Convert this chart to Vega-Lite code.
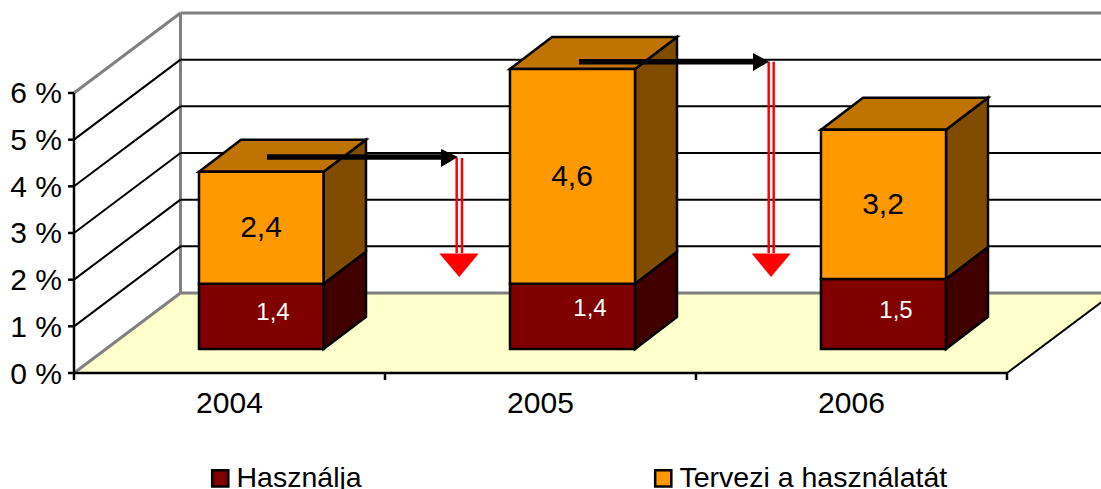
{"$schema":"https://vega.github.io/schema/vega-lite/v6.json","width":1101,"height":489,"padding":0,"autosize":{"type":"none"},"background":"white","config":{"view":{"stroke":null}},
"datasets":{
"floor":[{"x":0,"y":0,"y2":0},{"x":0.3424,"y":0,"y2":1.714},{"x":3,"y":0,"y2":1.714},{"x":3.3424,"y":1.714,"y2":1.714}],
"rules":[
{"kind":"gray","x":0,"x2":0.3424,"y":0,"y2":1.714},
{"kind":"gray","x":0,"x2":0.3424,"y":6,"y2":7.714},
{"kind":"gray","x":0.3424,"x2":0.3424,"y":1.714,"y2":7.714},
{"kind":"gray","x":0.3424,"x2":3.3424,"y":1.714,"y2":1.714},
{"kind":"gray","x":0.3424,"x2":3.3424,"y":7.714,"y2":7.714},
{"kind":"grid","x":0,"x2":0.3424,"y":1,"y2":2.714},
{"kind":"grid","x":0,"x2":0.3424,"y":2,"y2":3.714},
{"kind":"grid","x":0,"x2":0.3424,"y":3,"y2":4.714},
{"kind":"grid","x":0,"x2":0.3424,"y":4,"y2":5.714},
{"kind":"grid","x":0,"x2":0.3424,"y":5,"y2":6.714},
{"kind":"grid","x":0.3424,"x2":3.3424,"y":2.714,"y2":2.714},
{"kind":"grid","x":0.3424,"x2":3.3424,"y":3.714,"y2":3.714},
{"kind":"grid","x":0.3424,"x2":3.3424,"y":4.714,"y2":4.714},
{"kind":"grid","x":0.3424,"x2":3.3424,"y":5.714,"y2":5.714},
{"kind":"grid","x":0.3424,"x2":3.3424,"y":6.714,"y2":6.714},
{"kind":"grid","x":3,"x2":3.3424,"y":0,"y2":1.714},
{"kind":"axis","x":0,"x2":0,"y":-0.15,"y2":6},
{"kind":"axis","x":0,"x2":3,"y":0,"y2":0},
{"kind":"axis","x":1,"x2":1,"y":-0.15,"y2":0},
{"kind":"axis","x":2,"x2":2,"y":-0.15,"y2":0},
{"kind":"axis","x":3,"x2":3,"y":-0.15,"y2":0},
{"kind":"axis","x":-0.0193,"x2":0,"y":0,"y2":0},
{"kind":"axis","x":-0.0193,"x2":0,"y":1,"y2":1},
{"kind":"axis","x":-0.0193,"x2":0,"y":2,"y2":2},
{"kind":"axis","x":-0.0193,"x2":0,"y":3,"y2":3},
{"kind":"axis","x":-0.0193,"x2":0,"y":4,"y2":4},
{"kind":"axis","x":-0.0193,"x2":0,"y":5,"y2":5},
{"kind":"axis","x":-0.0193,"x2":0,"y":6,"y2":6},
{"kind":"red","x":1.2305,"x2":1.2305,"y":4.607,"y2":2.571},
{"kind":"red","x":1.2476,"x2":1.2476,"y":4.607,"y2":2.571},
{"kind":"red","x":2.2338,"x2":2.2338,"y":6.67,"y2":2.571},
{"kind":"red","x":2.2498,"x2":2.2498,"y":6.67,"y2":2.571},
{"kind":"arrow","x":0.6206,"x2":1.1801,"y":4.628,"y2":4.628},
{"kind":"arrow","x":1.6238,"x2":2.1833,"y":6.67,"y2":6.67}
],
"bars":[
{"year":"2004","series":"Használja","x":0.4019,"x2":0.8023,"y":0.514,"y2":1.914},
{"year":"2004","series":"Tervezi a használatát","x":0.4019,"x2":0.8023,"y":1.914,"y2":4.314},
{"year":"2005","series":"Használja","x":1.4019,"x2":1.8039,"y":0.514,"y2":1.914},
{"year":"2005","series":"Tervezi a használatát","x":1.4019,"x2":1.8039,"y":1.914,"y2":6.514},
{"year":"2006","series":"Használja","x":2.4019,"x2":2.8039,"y":0.514,"y2":2.014},
{"year":"2006","series":"Tervezi a használatát","x":2.4019,"x2":2.8039,"y":2.014,"y2":5.214}
],
"faces":[
{"face":"a1","series":"sötét oldal","x":0.8023,"y":0.514,"y2":1.914},{"face":"a1","series":"sötét oldal","x":0.9389,"y":1.2,"y2":2.6},
{"face":"a2","series":"narancs oldal","x":0.8023,"y":1.914,"y2":4.314},{"face":"a2","series":"narancs oldal","x":0.9389,"y":2.6,"y2":5},
{"face":"a3","series":"teteje","x":0.4019,"y":4.314,"y2":4.314},{"face":"a3","series":"teteje","x":0.537,"y":4.314,"y2":5},{"face":"a3","series":"teteje","x":0.8023,"y":4.314,"y2":5},{"face":"a3","series":"teteje","x":0.9389,"y":5,"y2":5},
{"face":"b1","series":"sötét oldal","x":1.8039,"y":0.514,"y2":1.914},{"face":"b1","series":"sötét oldal","x":1.9389,"y":1.2,"y2":2.6},
{"face":"b2","series":"narancs oldal","x":1.8039,"y":1.914,"y2":6.514},{"face":"b2","series":"narancs oldal","x":1.9389,"y":2.6,"y2":7.2},
{"face":"b3","series":"teteje","x":1.4019,"y":6.514,"y2":6.514},{"face":"b3","series":"teteje","x":1.537,"y":6.514,"y2":7.2},{"face":"b3","series":"teteje","x":1.8039,"y":6.514,"y2":7.2},{"face":"b3","series":"teteje","x":1.9389,"y":7.2,"y2":7.2},
{"face":"c1","series":"sötét oldal","x":2.8039,"y":0.514,"y2":2.014},{"face":"c1","series":"sötét oldal","x":2.9389,"y":1.2,"y2":2.7},
{"face":"c2","series":"narancs oldal","x":2.8039,"y":2.014,"y2":5.214},{"face":"c2","series":"narancs oldal","x":2.9389,"y":2.7,"y2":5.9},
{"face":"c3","series":"teteje","x":2.4019,"y":5.214,"y2":5.214},{"face":"c3","series":"teteje","x":2.537,"y":5.214,"y2":5.9},{"face":"c3","series":"teteje","x":2.8039,"y":5.214,"y2":5.9},{"face":"c3","series":"teteje","x":2.9389,"y":5.9,"y2":5.9}
],
"redHeads":[
{"id":"r1","x":1.1746,"y":2.561,"y2":2.561},{"id":"r1","x":1.2389,"y":2.057,"y2":2.561},{"id":"r1","x":1.3013,"y":2.561,"y2":2.561},
{"id":"r2","x":2.1791,"y":2.561,"y2":2.561},{"id":"r2","x":2.2412,"y":2.057,"y2":2.561},{"id":"r2","x":2.3045,"y":2.561,"y2":2.561}
],
"blackHeads":[
{"id":"k1","x":1.1801,"y":4.414,"y2":4.8},{"id":"k1","x":1.2347,"y":4.628,"y2":4.628},
{"id":"k2","x":2.1833,"y":6.471,"y2":6.856},{"id":"k2","x":2.2347,"y":6.67,"y2":6.67}
],
"tickLabels":[{"x":-0.0386,"y":0,"t":"0 %"},{"x":-0.0386,"y":1,"t":"1 %"},{"x":-0.0386,"y":2,"t":"2 %"},{"x":-0.0386,"y":3,"t":"3 %"},{"x":-0.0386,"y":4,"t":"4 %"},{"x":-0.0386,"y":5,"t":"5 %"},{"x":-0.0386,"y":6,"t":"6 %"}],
"yearLabels":[{"x":0.5,"y":-0.643,"t":"2004"},{"x":1.5,"y":-0.643,"t":"2005"},{"x":2.5,"y":-0.643,"t":"2006"}],
"orangeLabels":[{"x":0.6013,"y":3.128,"t":"2,4"},{"x":1.6013,"y":4.221,"t":"4,6"},{"x":2.6013,"y":3.621,"t":"3,2"}],
"darkLabels":[{"x":0.6399,"y":1.307,"t":"1,4"},{"x":1.6592,"y":1.393,"t":"1,4"},{"x":2.6431,"y":1.35,"t":"1,5"}]
},
"encoding":{
"x":{"field":"x","type":"quantitative","axis":null,"scale":{"domain":[-0.23794,3.3023],"nice":false,"zero":false}},
"y":{"field":"y","type":"quantitative","axis":null,"stack":null,"scale":{"domain":[-2.4855,7.9923],"nice":false,"zero":false}}
},
"layer":[
{"data":{"name":"floor"},"mark":{"type":"area","fill":"#FFFFCC","clip":true,"opacity":1},"encoding":{"y2":{"field":"y2"}}},
{"data":{"name":"rules"},"transform":[{"filter":"datum.kind==='gray'"}],"mark":{"type":"rule","stroke":"#808080","strokeWidth":3,"clip":true},"encoding":{"x2":{"field":"x2"},"y2":{"field":"y2"}}},
{"data":{"name":"rules"},"transform":[{"filter":"datum.kind==='grid'"}],"mark":{"type":"rule","stroke":"#000000","strokeWidth":2,"clip":true},"encoding":{"x2":{"field":"x2"},"y2":{"field":"y2"}}},
{"data":{"name":"faces"},"mark":{"type":"area","stroke":"#000000","strokeWidth":2.5,"opacity":1,"strokeJoin":"miter"},"encoding":{"y2":{"field":"y2"},"detail":{"field":"face"},"color":{"field":"series","type":"nominal","title":null,"scale":{"domain":["Használja","Tervezi a használatát","teteje","narancs oldal","sötét oldal"],"range":["#800000","#FF9900","#BF7300","#804D00","#400000"]},"legend":{"values":["Használja","Tervezi a használatát"],"orient":"none","legendX":206,"legendY":464,"padding":0,"direction":"horizontal","columns":2,"columnPadding":287,"symbolType":"square","symbolSize":260,"symbolStrokeColor":"#000000","symbolStrokeWidth":2.5,"symbolOpacity":1,"labelFont":"Liberation Sans","labelFontSize":28.5,"labelColor":"#000000","labelLimit":500,"labelOffset":2}}}},
{"data":{"name":"bars"},"mark":{"type":"rect","stroke":"#000000","strokeWidth":2.5,"opacity":1},"encoding":{"x2":{"field":"x2"},"y2":{"field":"y2"},"color":{"field":"series","type":"nominal","title":null,"scale":{"domain":["Használja","Tervezi a használatát","teteje","narancs oldal","sötét oldal"],"range":["#800000","#FF9900","#BF7300","#804D00","#400000"]},"legend":{"values":["Használja","Tervezi a használatát"],"orient":"none","legendX":206,"legendY":464,"padding":0,"direction":"horizontal","columns":2,"columnPadding":287,"symbolType":"square","symbolSize":260,"symbolStrokeColor":"#000000","symbolStrokeWidth":2.5,"symbolOpacity":1,"labelFont":"Liberation Sans","labelFontSize":28.5,"labelColor":"#000000","labelLimit":500,"labelOffset":2}}}},
{"data":{"name":"rules"},"transform":[{"filter":"datum.kind==='axis'"}],"mark":{"type":"rule","stroke":"#000000","strokeWidth":2.5},"encoding":{"x2":{"field":"x2"},"y2":{"field":"y2"}}},
{"data":{"name":"rules"},"transform":[{"filter":"datum.kind==='red'"}],"mark":{"type":"rule","stroke":"#FF0000","strokeWidth":2.5},"encoding":{"x2":{"field":"x2"},"y2":{"field":"y2"}}},
{"data":{"name":"redHeads"},"mark":{"type":"area","fill":"#FF0000","opacity":1},"encoding":{"y2":{"field":"y2"},"detail":{"field":"id"}}},
{"data":{"name":"rules"},"transform":[{"filter":"datum.kind==='arrow'"}],"mark":{"type":"rule","stroke":"#000000","strokeWidth":5.5},"encoding":{"x2":{"field":"x2"},"y2":{"field":"y2"}}},
{"data":{"name":"blackHeads"},"mark":{"type":"area","fill":"#000000","opacity":1},"encoding":{"y2":{"field":"y2"},"detail":{"field":"id"}}},
{"data":{"name":"tickLabels"},"mark":{"type":"text","font":"Liberation Sans","fontSize":30,"align":"right","baseline":"middle","dy":1.5,"fill":"#000000"},"encoding":{"text":{"field":"t"}}},
{"data":{"name":"yearLabels"},"mark":{"type":"text","font":"Liberation Sans","fontSize":30,"align":"center","baseline":"middle","dy":1,"fill":"#000000"},"encoding":{"text":{"field":"t"}}},
{"data":{"name":"orangeLabels"},"mark":{"type":"text","font":"Liberation Sans","fontSize":30,"align":"center","baseline":"middle","dy":1,"fill":"#000000"},"encoding":{"text":{"field":"t"}}},
{"data":{"name":"darkLabels"},"mark":{"type":"text","font":"Liberation Sans","fontSize":24,"align":"center","baseline":"middle","dy":1,"fill":"#FFFFFF"},"encoding":{"text":{"field":"t"}}}
]}
